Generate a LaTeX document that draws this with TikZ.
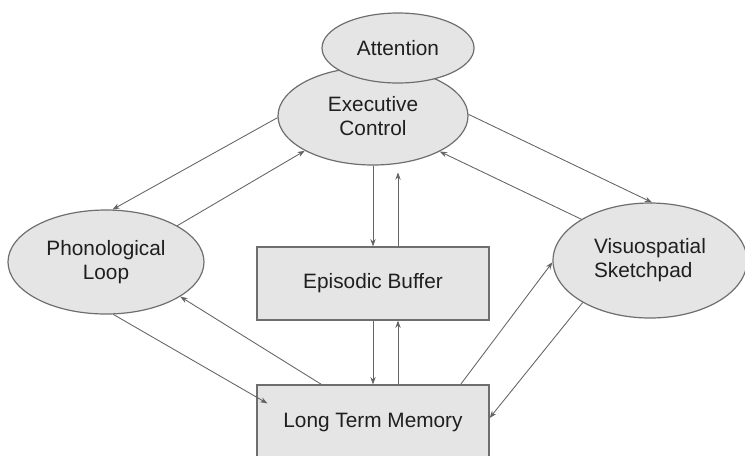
\documentclass[tikz,border=0pt]{standalone}
\usepackage{fontspec}
\setmainfont{Liberation Sans}
\usetikzlibrary{shapes.geometric,arrows.meta,calc}
\definecolor{boxfill}{RGB}{229,229,229}
\definecolor{boxline}{RGB}{110,110,110}
\definecolor{linkgray}{RGB}{100,100,100}
\begin{document}
\begin{tikzpicture}[x=0.75pt,y=0.75pt,yscale=-1,xscale=1,
  part/.style={draw=boxline,fill=boxfill,line width=0.9pt,inner sep=0pt,
    text=black!88,font=\fontsize{15.6}{18}\selectfont,align=center},
  blob/.style={part,ellipse},
  store/.style={part,rectangle},
  link/.style={draw=linkgray,line width=0.65pt,-{Stealth[length=5.5pt,width=4pt]}}]
\useasboundingbox (0,0) rectangle (745,455);

%Shape: Ellipse [id:exec]
\node [blob,minimum width=142.5pt,minimum height=73.5pt] (exec) at (373,116) {Executive\\Control};
%Shape: Ellipse [id:attention]
\node [blob,minimum width=114pt,minimum height=52.5pt] (attn) at (398,48) {Attention};
%Shape: Ellipse [id:phono]
\node [blob,minimum width=147pt,minimum height=78pt] (phono) at (106,262) {Phonological\\Loop};
%Shape: Ellipse [id:visuo]
\node [blob,minimum width=145.5pt,minimum height=86.25pt,align=left] (visuo) at (650,260.5) {Visuospatial\\Sketchpad};
%Shape: Rectangle [id:buffer]
\node [store,minimum width=174pt,minimum height=54.75pt] (buffer) at (373,283.5) {Episodic Buffer};
%Shape: Rectangle [id:ltm]
\node [store,minimum width=174pt,minimum height=55.5pt] (ltm) at (373,422) {Long Term Memory};

%Straight Lines: executive and the two slaves
\draw [link] (exec.181) -- (phono.83);
\draw [link] (phono.27) -- (exec.207);
\draw [link] (exec.1) -- (visuo.88);
\draw [link] (visuo.149) -- (exec.332);
%Straight Lines: episodic buffer
\draw [link] (exec.south) -- (buffer.north);
\draw [link] ($(buffer.north)+(25,0)$) -- ($(buffer.north)+(25,-74)$);
\draw [link] (buffer.south) -- (ltm.north);
\draw [link] ($(ltm.north)+(25,0)$) -- ($(buffer.south)+(25,0)$);
%Straight Lines: long term memory
\draw [link] (phono.278) -- ($(ltm.north west)+(11,19)$);
\draw [link] ($(ltm.north west)+(65,0)$) -- (phono.335);
\draw [link] ($(ltm.north east)+(-29,0)$) -- (visuo.181);
\draw [link] (visuo.212) -- ($(ltm.east)+(0,-4)$);

\end{tikzpicture}
\end{document}
